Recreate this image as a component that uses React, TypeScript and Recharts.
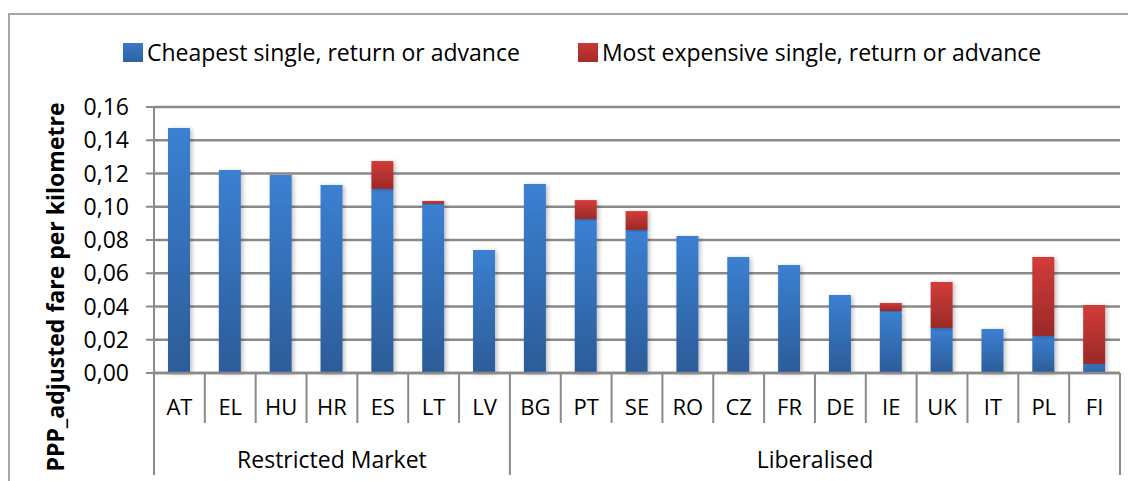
import React from "react";
import { BarChart, Bar, XAxis, YAxis, CartesianGrid, Legend } from "recharts";

const categories = ["AT", "EL", "HU", "HR", "ES", "LT", "LV", "BG", "PT", "SE", "RO", "CZ", "FR", "DE", "IE", "UK", "IT", "PL", "FI"];
const groupNames = ["Restricted Market", "Liberalised"];
const groupSizes = [7, 12];
const cheapest = [0.1474, 0.1221, 0.1191, 0.1131, 0.1107, 0.1017, 0.074, 0.1137, 0.0926, 0.086, 0.0824, 0.0698, 0.065, 0.0469, 0.0373, 0.0271, 0.0265, 0.0223, 0.0054];
const mostExpensive = [0, 0, 0, 0, 0.0168, 0.0018, 0, 0, 0.0114, 0.0114, 0, 0, 0, 0, 0.0048, 0.0276, 0, 0.0475, 0.0355];
const yTicks = [0, 0.02, 0.04, 0.06, 0.08, 0.1, 0.12, 0.14, 0.16];
const seriesNames = ["Cheapest single, return or advance", "Most expensive single, return or advance"];
const legendColors = ["#3a78c8", "#c73835"];

const data = categories.map((c, i) => ({ code: c, cheap: cheapest[i], expensive: mostExpensive[i] }));

const groupStarts: number[] = [];
{
  let s = 0;
  for (const n of groupSizes) { groupStarts.push(s); s += n; }
}

const FONT = "'Open Sans', 'Noto Sans', sans-serif";
const W = 1128;
const H = 473;
const LEGEND_H = 26;
const M = { top: 99 - LEGEND_H, right: 16, left: 0, bottom: 0 };
const Y_W = 146;
const PLOT_W = W - M.left - M.right - Y_W;
const BW = PLOT_W / categories.length;
const GRID = "#8a8a8a";

const XTick = (props: any) => {
  const { x, y, payload } = props;
  const i = payload.index;
  const left = x - BW / 2;
  const isGroupStart = groupStarts.includes(i);
  const isLast = i === categories.length - 1;
  const gi = groupStarts.indexOf(i);
  return (
    <g>
      <line x1={left} x2={left} y1={y} y2={y + (isGroupStart ? 102 : 50)} stroke={GRID} strokeWidth={2} />
      {isLast && <line x1={x + BW / 2} x2={x + BW / 2} y1={y} y2={y + 102} stroke={GRID} strokeWidth={2} />}
      <text x={x} y={y + 42} textAnchor="middle" fontFamily={FONT} fontSize={22} fill="#000">{payload.value}</text>
      {gi >= 0 && (
        <text x={left + (groupSizes[gi] * BW) / 2} y={y + 95} textAnchor="middle" fontFamily={FONT} fontSize={23} fill="#000">
          {groupNames[gi]}
        </text>
      )}
    </g>
  );
};

const LegendContent = (props: any) => {
  const { payload } = props;
  return (
    <div style={{ display: "flex", paddingLeft: 115, fontFamily: FONT, fontSize: 23, color: "#000", alignItems: "center", height: LEGEND_H }}>
      {payload.map((p: any, i: number) => (
        <div key={i} style={{ display: "flex", alignItems: "center", marginRight: 58 }}>
          <div style={{ width: 20, height: 19, background: `linear-gradient(${legendColors[i]}, ${i === 0 ? "#2e62a3" : "#a42c2a"})`, marginRight: 4 }} />
          <span>{p.value}</span>
        </div>
      ))}
    </div>
  );
};

export default function App() {
  return (
    <div style={{ position: "relative", width: W, height: H }}>
      <div style={{ position: "absolute", left: 0, top: 5, width: W + 20, height: H + 20, border: "2px solid #a6a6a6", boxSizing: "border-box" }} />
      <BarChart width={W} height={H} data={data} margin={M} barSize={22} style={{ position: "absolute", left: 0, top: 0 }}>
        <defs>
          <linearGradient id="gBlue" x1="0" y1="0" x2="0" y2="1">
            <stop offset="0%" stopColor="#3b80d2" />
            <stop offset="100%" stopColor="#2c5c98" />
          </linearGradient>
          <linearGradient id="gRed" x1="0" y1="0" x2="0" y2="1">
            <stop offset="0%" stopColor="#d23c39" />
            <stop offset="100%" stopColor="#9a2927" />
          </linearGradient>
          <filter id="shadow" x="-30%" y="-10%" width="160%" height="120%">
            <feDropShadow dx="2" dy="1" stdDeviation="2" floodColor="#000" floodOpacity="0.25" />
          </filter>
        </defs>
        <CartesianGrid vertical={false} stroke={GRID} strokeWidth={2.5} />
        <XAxis
          dataKey="code"
          interval={0}
          tickLine={false}
          tickSize={0}
          tickMargin={0}
          height={108}
          axisLine={{ stroke: GRID, strokeWidth: 2.5 }}
          tick={<XTick />}
        />
        <YAxis
          width={Y_W}
          domain={[0, 0.16]}
          ticks={yTicks}
          interval={0}
          tickSize={8}
          tickMargin={17}
          axisLine={{ stroke: GRID, strokeWidth: 2 }}
          tickLine={{ stroke: GRID, strokeWidth: 2 }}
          tick={{ fontFamily: FONT, fontSize: 23, fill: "#000" }}
          tickFormatter={(v: number) => v.toFixed(2).replace(".", ",")}
          label={{
            value: "PPP_adjusted fare per kilometre",
            angle: -90,
            position: "insideLeft",
            offset: 48,
            dy: 47,
            style: { fontFamily: FONT, fontSize: 23, fontWeight: "bold", fill: "#000", textAnchor: "middle" },
          }}
        />
        <Legend verticalAlign="top" align="left" height={LEGEND_H} wrapperStyle={{ top: 31, left: 0, width: W }} content={<LegendContent />} />
        <Bar dataKey="cheap" name={seriesNames[0]} stackId="a" fill="url(#gBlue)" isAnimationActive={false} filter="url(#shadow)" />
        <Bar dataKey="expensive" name={seriesNames[1]} stackId="a" fill="url(#gRed)" isAnimationActive={false} filter="url(#shadow)" />
      </BarChart>
    </div>
  );
}
